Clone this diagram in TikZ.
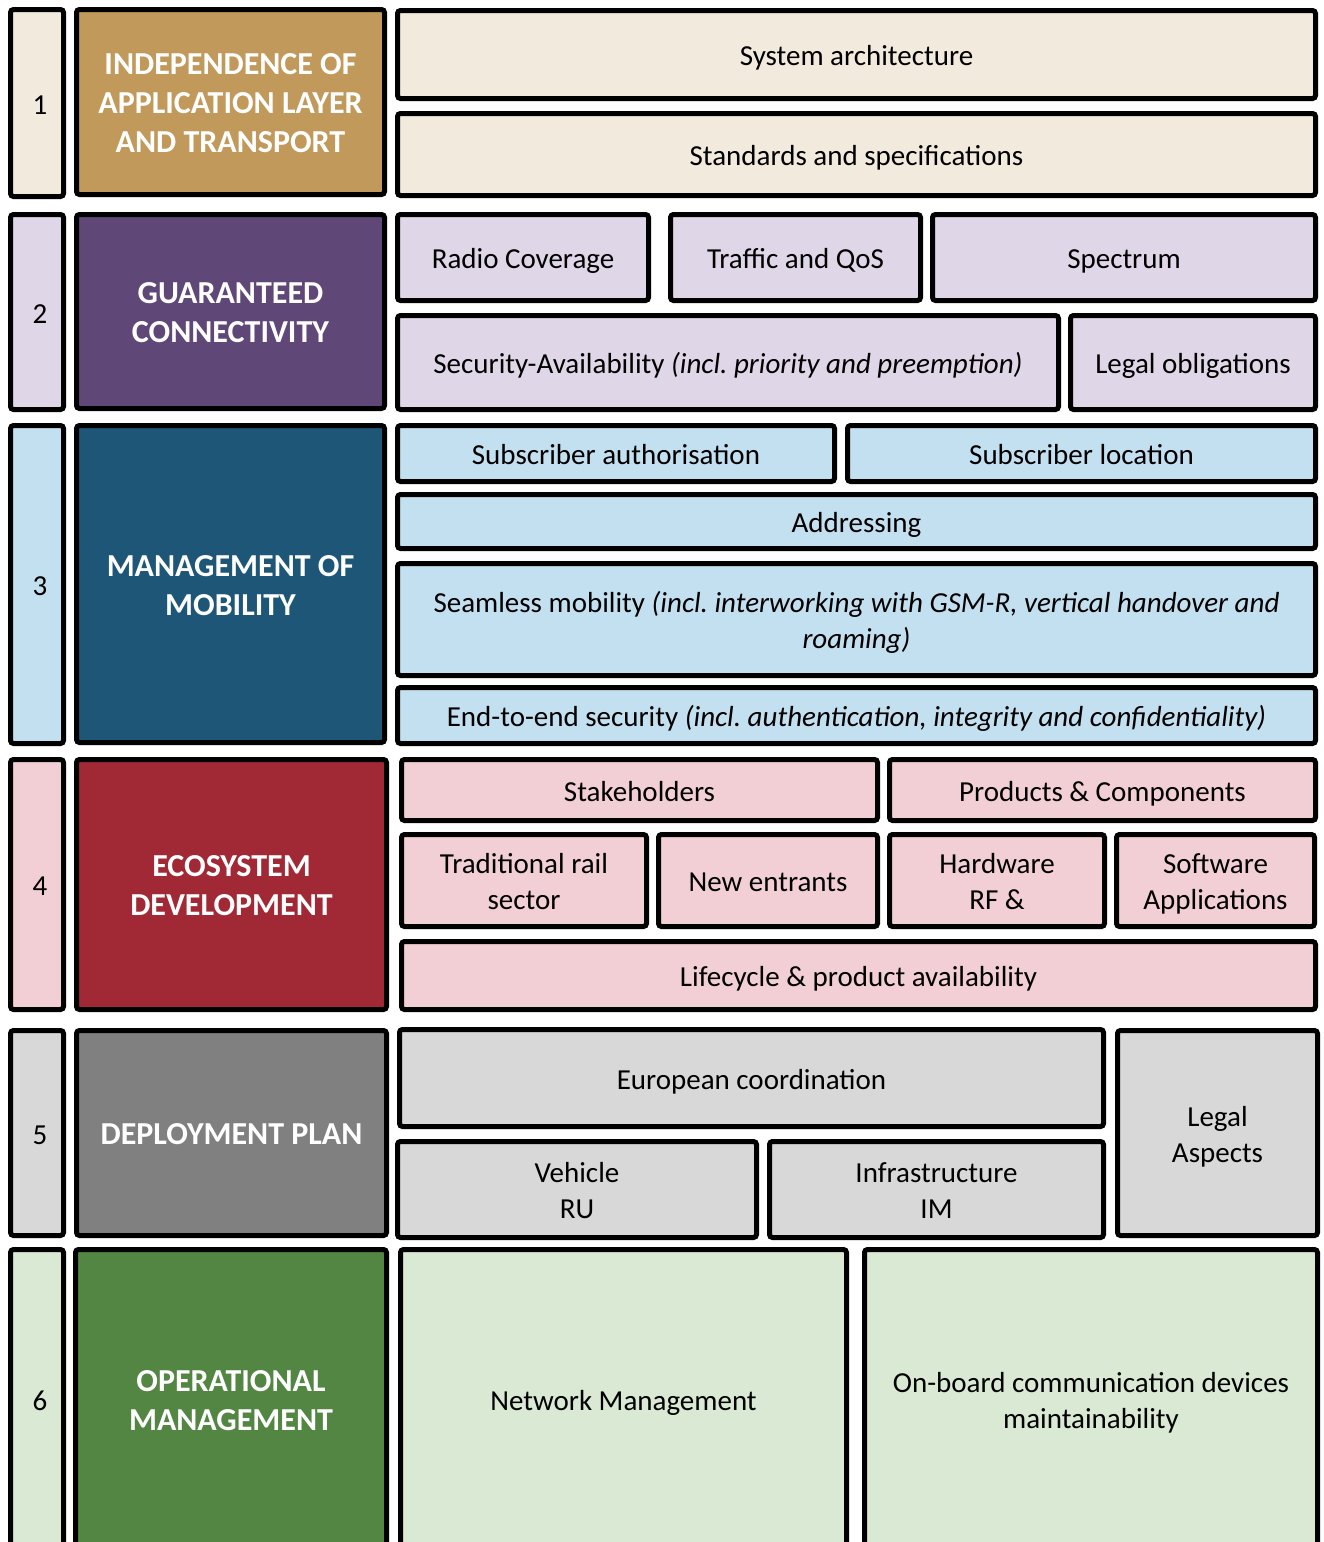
\documentclass[tikz,border=0pt]{standalone}
\usepackage{fontspec}
\setmainfont{Carlito}
\frenchspacing

\definecolor{sandlt}{HTML}{F2EADD}
\definecolor{sandhd}{HTML}{C1995B}
\definecolor{plumlt}{HTML}{DFD6E7}
\definecolor{plumhd}{HTML}{5F4777}
\definecolor{bluelt}{HTML}{C3E0F0}
\definecolor{bluehd}{HTML}{1E5678}
\definecolor{rosylt}{HTML}{F2CFD5}
\definecolor{rosyhd}{HTML}{A12835}
\definecolor{greylt}{HTML}{D8D8D8}
\definecolor{greyhd}{HTML}{808080}
\definecolor{leaflt}{HTML}{DAE9D4}
\definecolor{leafhd}{HTML}{528642}

% cell: name, left, top, right, bottom (outer edges, px), style, text
\newcommand\cell[7]{%
  \pgfmathsetmacro\cellw{#4-#2-5}\pgfmathsetmacro\cellh{#5-#3-5}%
  \node[#6, minimum width=\cellw pt, minimum height=\cellh pt] (#1) at ({(#2+#4)/2},{(#3+#5)/2})
    {\raisebox{-4pt}[\height][\depth]{\begin{tabular}{@{}c@{}}#7\end{tabular}}};}

\begin{document}
\begin{tikzpicture}[x=1pt, y=-1pt,
    box/.style={rectangle, draw, line width=5pt, rounded corners=3pt, inner sep=0pt,
      font=\fontsize{29}{36}\selectfont},
    head/.style={box, text=white, font=\fontsize{32}{39}\selectfont\bfseries},
    num/.style={box, execute at begin node={\hspace*{6pt}}}
  ]
  \clip (0,0) rectangle (1324,1542);

  % Row 1
  \cell{num1}{8}{7}{66}{199}{num, fill=sandlt}{1}
  \cell{hd1}{74}{7}{387}{197}{head, fill=sandhd}{INDEPENDENCE OF\\APPLICATION LAYER\\AND TRANSPORT}
  \cell{sysarch}{395}{8}{1318}{101}{box, fill=sandlt}{System architecture}
  \cell{stds}{395}{111}{1318}{198}{box, fill=sandlt}{Standards and specifications}

  % Row 2
  \cell{num2}{8}{212}{66}{412}{num, fill=plumlt}{2}
  \cell{hd2}{74}{212}{387}{411}{head, fill=plumhd}{GUARANTEED\\CONNECTIVITY}
  \cell{radio}{395}{212}{651}{303}{box, fill=plumlt}{Radio Coverage}
  \cell{traffic}{668}{212}{923}{303}{box, fill=plumlt}{Traffic and QoS}
  \cell{spectrum}{930}{212}{1318}{303}{box, fill=plumlt}{Spectrum}
  \cell{secavail}{395}{313}{1061}{412}{box, fill=plumlt}{Security-Availability \textit{(incl. priority and preemption)}}
  \cell{legalobl}{1068}{313}{1318}{412}{box, fill=plumlt}{Legal obligations}

  % Row 3
  \cell{num3}{8}{423}{66}{746}{num, fill=bluelt}{3}
  \cell{hd3}{74}{423}{387}{745}{head, fill=bluehd}{MANAGEMENT OF\\MOBILITY}
  \cell{subauth}{395}{423}{837}{484}{box, fill=bluelt}{Subscriber authorisation}
  \cell{subloc}{845}{423}{1318}{484}{box, fill=bluelt}{Subscriber location}
  \cell{addr}{395}{492}{1318}{551}{box, fill=bluelt}{Addressing}
  \cell{seamless}{395}{561}{1318}{678}{box, fill=bluelt}{Seamless mobility \textit{(incl. interworking with GSM-R, vertical handover and}\\\textit{roaming)}}
  \cell{endtoend}{395}{685}{1318}{746}{box, fill=bluelt}{End-to-end security \textit{(incl. authentication, integrity and confidentiality)}}

  % Row 4
  \cell{num4}{8}{757}{66}{1012}{num, fill=rosylt}{4}
  \cell{hd4}{74}{757}{389}{1012}{head, fill=rosyhd}{ECOSYSTEM\\DEVELOPMENT}
  \cell{stake}{399}{757}{880}{823}{box, fill=rosylt}{Stakeholders}
  \cell{products}{887}{757}{1318}{823}{box, fill=rosylt}{Products \& Components}
  \cell{tradrail}{399}{832}{649}{929}{box, fill=rosylt}{Traditional rail\\sector}
  \cell{newent}{656}{832}{880}{929}{box, fill=rosylt}{New entrants}
  \cell{hardware}{887}{832}{1107}{929}{box, fill=rosylt}{Hardware\\RF \&}
  \cell{software}{1114}{832}{1317}{929}{box, fill=rosylt}{Software\\Applications}
  \cell{lifecycle}{399}{939}{1318}{1012}{box, fill=rosylt}{Lifecycle \& product availability}

  % Row 5
  \cell{num5}{8}{1028}{66}{1238}{num, fill=greylt}{5}
  \cell{hd5}{74}{1028}{389}{1238}{head, fill=greyhd}{DEPLOYMENT PLAN}
  \cell{euro}{397}{1027}{1106}{1129}{box, fill=greylt}{European coordination}
  \cell{vehicle}{395}{1139}{759}{1240}{box, fill=greylt}{Vehicle\\RU}
  \cell{infra}{767}{1139}{1106}{1240}{box, fill=greylt}{Infrastructure\\IM}
  \cell{legalasp}{1115}{1028}{1320}{1238}{box, fill=greylt}{Legal\\Aspects}

  % Row 6
  \cell{num6}{8}{1247}{66}{1552}{num, fill=leaflt}{6}
  \cell{hd6}{73}{1247}{389}{1552}{head, fill=leafhd}{OPERATIONAL\\MANAGEMENT}
  \cell{netmgmt}{398}{1247}{849}{1552}{box, fill=leaflt}{Network Management}
  \cell{onboard}{862}{1247}{1320}{1552}{box, fill=leaflt}{On-board communication devices\\maintainability}

\end{tikzpicture}
\end{document}
